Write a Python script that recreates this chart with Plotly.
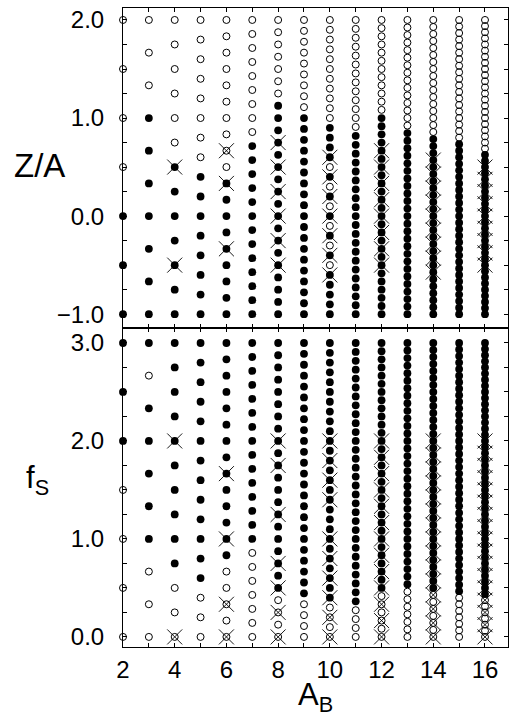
import plotly.graph_objects as go

# ---------------- data ----------------
A_B = [2, 3, 4, 5, 6, 7, 8, 9, 10, 11, 12, 13, 14, 15, 16]

# upper panel: Z/A = Z/A_B with Z from -A_B to 2*A_B
top_zmax = [0, 3, 2, 2, 2, 5, 9, 9, 9, 9, 12, 11, 11, 11, 10]      # filled when Z <= zmax
top_open_extra = [[], [], [], [], [], [], [], [],
                  [5, 3, 1, -1, -3, -5], [], [], [], [], [], []]     # open although Z <= zmax
top_cross = [[], [], [2, -2], [], [4, 2, -2], [],
             [6, 4, 2, 0, -2, -4], [],
             [6, 4, 2, 0, -2, -4, -6], [],
             [8, 6, 4, 2, 0, -2, -4, -6], [],
             [8, 6, 4, 2, 0, -2, -4, -6, -8], [],
             [8, 6, 4, 2, 0, -2, -4, -6, -8]]

# lower panel: f_S = S/A_B with S from 0 to 3*A_B
bot_smin = [4, 3, 3, 3, 5, 7, 4, 4, 4, 4, 6, 7, 7, 7, 7]            # filled when S >= smin
bot_open_extra = [[], [8], [], [], [], [], [], [], [], [], [], [], [], [], []]
bot_cross = [[], [], [8, 0], [], [10, 6, 2, 0], [],
             [16, 14, 10, 6, 4, 2, 0], [],
             [20, 18, 16, 14, 10, 8, 6, 4, 2, 0], [],
             [24, 22, 20, 18, 16, 14, 12, 10, 8, 6, 4, 2, 0], [],
             [28, 26, 24, 22, 20, 18, 16, 14, 12, 10, 8, 6, 4, 2, 0], [],
             [32, 30, 28, 26, 24, 22, 20, 18, 16, 14, 12, 10, 8, 6, 4, 2, 0]]

y_ticks_top = [-1, 0, 1, 2]
y_ticks_bot = [0, 1, 2, 3]
x_ticks = [2, 4, 6, 8, 10, 12, 14, 16]

# ---------------- build point sets ----------------
def build(lo_mult, hi_mult, is_filled, crosses):
    fx, fy, ox, oy, cx, cy = [], [], [], [], [], []
    for i, a in enumerate(A_B):
        for n in range(lo_mult * a, hi_mult * a + 1):
            v = n / a
            if is_filled(i, n):
                fx.append(a); fy.append(v)
            else:
                ox.append(a); oy.append(v)
        for n in crosses[i]:
            cx.append(a); cy.append(n / a)
    return fx, fy, ox, oy, cx, cy

top = build(-1, 2, lambda i, z: z <= top_zmax[i] and z not in top_open_extra[i], top_cross)
bot = build(0, 3, lambda i, s: s >= bot_smin[i] and s not in bot_open_extra[i], bot_cross)

fig = go.Figure()

def add_panel(pts, xa, ya):
    fx, fy, ox, oy, cx, cy = pts
    fig.add_trace(go.Scatter(x=ox, y=oy, mode="markers", xaxis=xa, yaxis=ya, cliponaxis=False,
                             marker=dict(symbol="circle-open", size=7, color="black",
                                         line=dict(color="black", width=1)),
                             showlegend=False, hoverinfo="skip"))
    fig.add_trace(go.Scatter(x=fx, y=fy, mode="markers", xaxis=xa, yaxis=ya, cliponaxis=False,
                             marker=dict(symbol="circle", size=7.8, color="black",
                                         line=dict(width=0)),
                             showlegend=False, hoverinfo="skip"))
    fig.add_trace(go.Scatter(x=cx, y=cy, mode="markers", xaxis=xa, yaxis=ya, cliponaxis=False,
                             marker=dict(symbol="x-thin-open", size=15, color="black",
                                         line=dict(color="black", width=0.9)),
                             showlegend=False, hoverinfo="skip"))

add_panel(top, "x", "y")
add_panel(bot, "x2", "y2")

FONT = "Arial, Liberation Sans, Helvetica, sans-serif"
tickfont = dict(family=FONT, size=24, color="black")

common_x = dict(range=[2, 16.89], showgrid=False, zeroline=False, showline=True,
                linecolor="black", linewidth=1, mirror="allticks",
                ticks="inside", ticklen=4, tickcolor="black", tickwidth=1)
common_y = dict(showgrid=False, zeroline=False, showline=True, linecolor="black",
                linewidth=1, mirror="allticks", ticks="inside", ticklen=4,
                tickcolor="black", tickwidth=1, tickformat=".1f", tickfont=tickfont,
                ticklabelstandoff=13,
                minor=dict(dtick=0.25, tick0=0, ticks="inside", ticklen=4,
                           tickcolor="black", tickwidth=1, showgrid=False))

fig.update_layout(
    width=513, height=717,
    margin=dict(l=123, r=5, t=8, b=70),
    plot_bgcolor="white", paper_bgcolor="white",
    xaxis=dict(common_x, domain=[0, 1], anchor="y", matches="x2",
               tickmode="linear", tick0=2, dtick=1, showticklabels=False),
    xaxis2=dict(common_x, domain=[0, 1], anchor="y2", tickmode="array",
                tickvals=x_ticks, tickfont=tickfont, ticklabelstandoff=1,
                minor=dict(dtick=1, tick0=2, ticks="inside", ticklen=4,
                           tickcolor="black", tickwidth=1, showgrid=False)),
    yaxis=dict(common_y, domain=[0.5, 1], anchor="x", range=[-1.136, 2.122],
               tickmode="array", tickvals=y_ticks_top),
    yaxis2=dict(common_y, domain=[0, 0.5], anchor="x2", range=[-0.103, 3.158],
                tickmode="array", tickvals=y_ticks_bot),
)

fig.add_annotation(text="Z/A", xref="paper", yref="paper", x=-0.218, y=0.753,
                   showarrow=False, xanchor="center", yanchor="middle",
                   font=dict(family=FONT, size=33, color="black"))
fig.add_annotation(text="f<sub>S</sub>", xref="paper", yref="paper", x=-0.222, y=0.262,
                   showarrow=False, xanchor="center", yanchor="middle",
                   font=dict(family=FONT, size=31, color="black"))
fig.add_annotation(text="A<sub>B</sub>", xref="paper", yref="paper", x=0.5, y=-0.078,
                   showarrow=False, xanchor="center", yanchor="middle",
                   font=dict(family=FONT, size=31, color="black"))

fig.write_html("out.html")
